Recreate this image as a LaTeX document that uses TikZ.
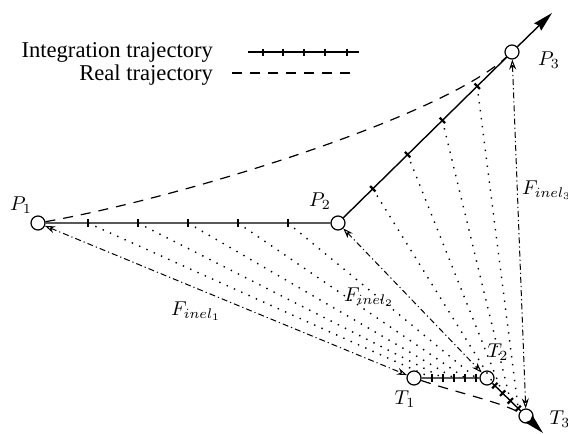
\documentclass[tikz,border=0pt]{standalone}
\usepackage[no-math]{fontspec}
\setmainfont{Liberation Serif}
\usepackage{tikz}
\usetikzlibrary{arrows.meta,positioning,calc}

\begin{document}
\begin{tikzpicture}[x=0.5pt,y=-0.5pt,
			pnt/.style={draw,circle,fill=white,minimum size=7pt,inner sep=0pt,line width=0.6pt},
			integ/.style={line width=0.7pt},
			tickmark/.style={line width=1.1pt},
			real/.style={line width=0.6pt,dash pattern=on 5pt off 4pt},
			proj/.style={line width=0.7pt,dash pattern=on 0.7pt off 3.3pt},
			force/.style={line width=0.5pt,dash pattern=on 3pt off 1.5pt on 0.6pt off 1.5pt,{Stealth[open,length=5pt,width=3.5pt]}-{Stealth[open,length=5pt,width=3.5pt]}},
			move/.style={line width=0.7pt,-{Stealth[length=10pt,width=5pt,inset=1pt]}},
			lab/.style={font=\fontsize{10}{12}\selectfont},
			leg/.style={font=\fontsize{11.3}{13}\selectfont,anchor=base east}
			]
			\useasboundingbox (0,0) rectangle (568,434);
			\node[pnt] (P1) at (38,223) {};
			\node[pnt] (P2) at (338,223) {};
			\node[pnt] (P3) at (512,52) {};
			\node[pnt] (T1) at (414,378) {};
			\node[pnt] (T2) at (487,378) {};
			\node[pnt] (T3) at (526,416) {};
			\coordinate (P3end) at (552,13);
			\coordinate (T3end) at (543,433);
			\node[lab] (lP1) at (21,205) {$P_1$};
			\node[lab] (lP2) at (320,201) {$P_2$};
			\node[lab] (lP3) at (549,60) {$P_3$};
			\node[lab] (lT1) at (405,399) {$T_1$};
			\node[lab] (lT2) at (498,352) {$T_2$};
			\node[lab] (lT3) at (560,419) {$T_3$};
			\node[lab] (lF1) at (196,311) {$F_{inel_1}$};
			\node[lab] (lF2) at (369,297) {$F_{inel_2}$};
			\node[lab] (lF3) at (547,190) {$F_{inel_3}$};
			\node[leg] (li) at (220,57) {Integration trajectory};
			\node[leg] (lr) at (220,80) {Real trajectory};
			\coordinate (li1) at (248,52);
			\coordinate (li2) at (359,52);
			\coordinate (lr1) at (232,73);
			\coordinate (lr2) at (357,73);
			\draw[integ] (li1) -- (li2);
			\foreach \x in {263,283,304,325,347} \draw[tickmark] (\x,48.5) -- (\x,55.5);
			\draw[real] (lr1) -- (lr2);
			\foreach \k/\f in {1/0.25,2/0.4,3/0.55,4/0.7,5/0.85} {
				\coordinate (a\k) at ($(P1)!\k/6!(P2)$);
				\coordinate (b\k) at ($(T1)!\f!(T2)$);
				\draw[proj] (a\k) -- (b\k);
				\draw[tickmark] ($(a\k)!1.9pt!90:(P2)$) -- ($(a\k)!1.9pt!-90:(P2)$);
				\draw[tickmark] ($(b\k)!1.9pt!90:(T2)$) -- ($(b\k)!1.9pt!-90:(T2)$);
			}
			\foreach \k in {1,...,4} {
				\coordinate (c\k) at ($(P2)!\k/5!(P3)$);
				\coordinate (d\k) at ($(T2)!\k/5!(T3)$);
				\draw[proj] (c\k) -- (d\k);
				\draw[tickmark] ($(c\k)!1.9pt!90:(P3)$) -- ($(c\k)!1.9pt!-90:(P3)$);
				\draw[tickmark] ($(d\k)!1.9pt!90:(T3)$) -- ($(d\k)!1.9pt!-90:(T3)$);
			}
			\draw[integ] (P1) -- (P2) -- (P3);
			\draw[integ] (T1) -- (T2) -- (T3);
			\draw[real] (P1) .. controls (180,198) and (440,118) .. (P3);
			\draw[real] (T1) .. controls (455,392) and (500,402) .. (T3);
			\draw[force] (P1) -- (T1);
			\draw[force] (P2) -- (T2);
			\draw[force] (P3) -- (T3);
			\draw[move] (P3) -- (P3end);
			\draw[move] (T3) -- (T3end);
		\end{tikzpicture}
\end{document}
